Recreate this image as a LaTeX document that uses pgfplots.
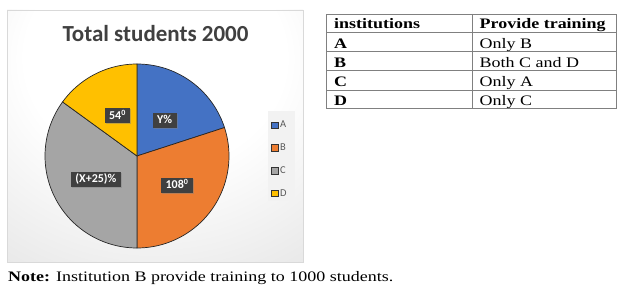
\documentclass[border=0pt]{standalone}
\usepackage{pgfplots}
\pgfplotsset{compat=1.18}
\usepackage{fontspec}
\usetikzlibrary{shadows}
\newfontfamily\carlito{Carlito}
\newfontfamily\tabfont[FakeStretch=1.24]{Liberation Serif}
\definecolor{cA}{HTML}{4472C4}
\definecolor{cB}{HTML}{ED7D31}
\definecolor{cC}{HTML}{A5A5A5}
\definecolor{cD}{HTML}{FFC000}
\definecolor{lblbg}{HTML}{404040}
\definecolor{tline}{HTML}{808080}
\pgfdeclareradialshading{chartbg}{\pgfpoint{0bp}{20bp}}{color(0bp)=(white); color(22bp)=(white); color(55bp)=(black!13); color(86bp)=(black!29); color(100bp)=(black!29)}
\tikzset{lbl/.style={fill=lblbg, text=white, font=\carlito\bfseries\fontsize{12}{14}\selectfont,
    inner xsep=4.5pt, inner ysep=2.5pt, text height=8.5pt, text depth=1.5pt,
    drop shadow={shadow xshift=1pt, shadow yshift=-1pt, opacity=0.45}}}
\begin{document}
\begin{tikzpicture}[x=1pt,y=1pt]
\useasboundingbox (0,0) rectangle (624,289);
% chart background
\shade[shading=chartbg] (7,27) rectangle (303,279);
\draw[white!85!black, line width=0.6pt] (7,27) rectangle (303,279);
% title
\node[font=\carlito\bfseries\fontsize{23}{27}\selectfont, text=lblbg, anchor=base] at (155.5,247) {Total students 2000};
% legend background box
\fill[black!5] (268,88) rectangle (295,178);
\begin{axis}[
  at={(137pt,133pt)}, anchor=center,
  width=184pt, height=184pt, scale only axis,
  xmin=-1, xmax=1, ymin=-1, ymax=1,
  hide axis, clip=false,
  legend style={at={(1.212,0.734)}, anchor=north west, draw=none, fill=none,
    font=\carlito\fontsize{10.5}{12}\selectfont, text=black!65,
    row sep=10.5pt, inner xsep=3pt, inner ysep=6pt, cells={anchor=west}},
  legend image code/.code={\draw[#1, draw=black!80, line width=0.6pt] (0pt,-3.2pt) rectangle (6.4pt,3.2pt);},
]
% slice angles: A 72, B 108, C 126, D 54 (degrees), clockwise from 12 o'clock
\addplot[fill=cA, draw=black!85, line width=0.7pt, domain=18:90, samples=61] ({cos(x)},{sin(x)}) -- (axis cs:0,0) -- cycle;
\addlegendentry{A}
\addplot[fill=cB, draw=black!85, line width=0.7pt, domain=-90:18, samples=81] ({cos(x)},{sin(x)}) -- (axis cs:0,0) -- cycle;
\addlegendentry{B}
\addplot[fill=cC, draw=black!85, line width=0.7pt, domain=-216:-90, samples=91] ({cos(x)},{sin(x)}) -- (axis cs:0,0) -- cycle;
\addlegendentry{C}
\addplot[fill=cD, draw=black!85, line width=0.7pt, domain=-270:-216, samples=41] ({cos(x)},{sin(x)}) -- (axis cs:0,0) -- cycle;
\addlegendentry{D}
\node[lbl] at (axis cs:0.299,0.386) {Y\%};
\node[lbl] at (axis cs:-0.212,0.435) {54\textsuperscript{0}};
\node[lbl] at (axis cs:0.435,-0.32) {108\textsuperscript{0}};
\node[lbl] at (axis cs:-0.446,-0.255) {(X+25)\%};
\end{axis}
% table
\begin{scope}[tline, line width=0.8pt]
\draw (326,275) rectangle (616,181);
\draw (472,275) -- (472,181);
\foreach \y in {256.3,237.3,218.3,199} \draw (326,\y) -- (616,\y);
\end{scope}
\begin{scope}[every node/.style={anchor=base west, inner sep=0pt, font=\tabfont\fontsize{14.5}{16}\selectfont}]
\node at (334,260) {\textbf{institutions}};
\node at (479.5,260) {\textbf{Provide training}};
\node at (334,240.7) {\textbf{A}};
\node at (334,221.7) {\textbf{B}};
\node at (334,202.3) {\textbf{C}};
\node at (334,183.3) {\textbf{D}};
\node at (479.5,240.7) {Only B};
\node at (479.5,221.7) {Both C and D};
\node at (479.5,202.3) {Only A};
\node at (479.5,183.3) {Only C};
\node at (8,7.7) {\textbf{Note:} Institution B provide training to 1000 students.};
\end{scope}
\end{tikzpicture}
\end{document}
